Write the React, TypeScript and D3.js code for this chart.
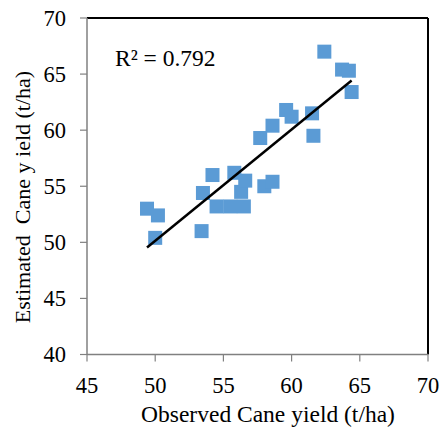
import React from "react";
import * as d3 from "d3";

const observed = [49.4, 50.2, 50.0, 53.4, 53.5, 54.2, 54.5, 55.5, 56.5, 55.8, 56.3, 56.6, 58.0, 58.6, 57.7, 58.6, 59.6, 60.0, 61.5, 61.6, 62.4, 63.7, 64.2, 64.4];
const estimated = [53.0, 52.4, 50.4, 51.0, 54.4, 56.0, 53.2, 53.2, 53.2, 56.2, 54.5, 55.5, 55.0, 55.4, 59.3, 60.4, 61.8, 61.2, 61.5, 59.5, 67.0, 65.4, 65.3, 63.4];
const xTicks = [45, 50, 55, 60, 65, 70];
const yTicks = [40, 45, 50, 55, 60, 65, 70];
const r2Label = "R² = 0.792";
const xTitle = "Observed Cane yield (t/ha)";
const yTitle = "Estimated  Cane y ield (t/ha)";

export default function App() {
  const W = 440, H = 430;
  const L = 87, R = 428, T = 18, B = 354.5;
  const x = d3.scaleLinear().domain([45, 70]).range([L, R]);
  const y = d3.scaleLinear().domain([40, 70]).range([B, T]);
  const pts = observed.map((v, i) => [v, estimated[i]] as [number, number]);
  const mx = d3.mean(observed)!, my = d3.mean(estimated)!;
  let sxy = 0, sxx = 0;
  pts.forEach(([a, b]) => { sxy += (a - mx) * (b - my); sxx += (a - mx) * (a - mx); });
  const slope = sxy / sxx, icpt = my - slope * mx;
  const [x0, x1] = d3.extent(observed) as [number, number];
  const line = d3.line<[number, number]>().x(d => x(d[0])).y(d => y(d[1]));
  const trend: [number, number][] = [[x0, icpt + slope * x0], [x1, icpt + slope * x1]];
  const sq = 14;
  const font = "'Liberation Serif', 'Times New Roman', serif";
  return (
    <svg width={W} height={H} style={{ position: "absolute", left: 0, top: 0, background: "#fff" }} fontFamily={font}>
      <rect x={0} y={0} width={W} height={H} fill="#fff" />
      {pts.map(([a, b], i) => (
        <rect key={i} x={x(a) - sq / 2} y={y(b) - sq / 2} width={sq} height={sq} fill="#5B9BD5" />
      ))}
      <path d={line(trend)!} stroke="#000" strokeWidth={2.5} fill="none" />
      <line x1={L} x2={R} y1={T} y2={T} stroke="#000" strokeWidth={2} />
      <line x1={R} x2={R} y1={T} y2={B} stroke="#000" strokeWidth={2} />
      <line x1={L} x2={L} y1={T} y2={B} stroke="#808080" strokeWidth={1.5} />
      <line x1={L} x2={R} y1={B} y2={B} stroke="#808080" strokeWidth={1.5} />
      {yTicks.map(t => (
        <g key={t}>
          <line x1={L - 7} x2={L} y1={y(t)} y2={y(t)} stroke="#808080" strokeWidth={1.2} />
          <text x={66} y={y(t) + 7.5} textAnchor="end" fontSize={22.5}>{t}</text>
        </g>
      ))}
      {xTicks.map(t => (
        <g key={t}>
          <line x1={x(t)} x2={x(t)} y1={B} y2={B + 7} stroke="#808080" strokeWidth={1.2} />
          <text x={x(t)} y={393} textAnchor="middle" fontSize={22.5}>{t}</text>
        </g>
      ))}
      <text x={115} y={66} fontSize={23.5}>{r2Label}</text>
      <text x={268} y={422} textAnchor="middle" fontSize={23.5}>{xTitle}</text>
      <text transform={`translate(30,197) rotate(-90)`} textAnchor="middle" fontSize={22} style={{ whiteSpace: "pre" }}>{yTitle}</text>
    </svg>
  );
}
